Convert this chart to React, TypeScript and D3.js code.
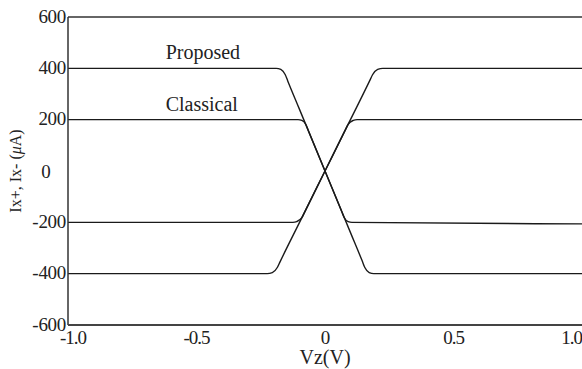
import React from "react";
import * as d3 from "d3";

const W = 582;
const H = 369;

// Tick values and labels
const xTicks = [-1.0, -0.5, 0, 0.5, 1.0];
const xTickLabels = ["-1.0", "-0.5", "0", "0.5", "1.0"];
const yTicks = [600, 400, 200, 0, -200, -400, -600];
const yTickLabels = ["600", "400", "200", "0", "-200", "-400", "-600"];

// Series: Proposed (descending and ascending branches)
const propDownVz = [-1, -0.19, -0.172, -0.155, -0.145, -0.1, 0, 0.1, 0.145, 0.155, 0.172, 0.19, 1];
const propDownI = [400, 400, 396, 376, 351, 242, 0, -242, -351, -376, -396, -400, -400];
const propUpVz = [-1, -0.225, -0.205, -0.185, -0.175, -0.1, 0, 0.1, 0.175, 0.185, 0.205, 0.225, 1];
const propUpI = [-400, -400, -396, -375, -354, -202, 0, 202, 354, 375, 396, 400, 400];

// Series: Classical (descending and ascending branches)
const classDownVz = [-1, -0.105, -0.09, -0.075, -0.065, 0, 0.065, 0.075, 0.09, 0.105, 1];
const classDownI = [200, 200, 197, 182, 158, 0, -158, -182, -197, -200, -206];
const classUpVz = [-1, -0.125, -0.11, -0.09, -0.08, 0, 0.08, 0.09, 0.11, 0.125, 1];
const classUpI = [-200, -200, -197, -182, -162, 0, 162, 182, 197, 200, 200];

const seriesList = [
  { name: "propDown", vz: propDownVz, i: propDownI },
  { name: "propUp", vz: propUpVz, i: propUpI },
  { name: "classDown", vz: classDownVz, i: classDownI },
  { name: "classUp", vz: classUpVz, i: classUpI },
];

const annotations = [
  { text: "Proposed", vz: -0.62, i: 400 },
  { text: "Classical", vz: -0.62, i: 200 },
];

export default function App() {
  const left = 68;
  const right = 582;
  const top = 17;
  const bottom = 325;

  const x = d3.scaleLinear().domain([-1, 1]).range([left, right]);
  const y = d3.scaleLinear().domain([-600, 600]).range([bottom, top]);

  const line = d3
    .line<[number, number]>()
    .x((d) => x(d[0]))
    .y((d) => y(d[1]))
    .curve(d3.curveMonotoneX);

  const font = "'Liberation Serif', 'Times New Roman', Times, serif";

  return (
    <svg
      width={W}
      height={H}
      style={{ position: "absolute", left: 0, top: 0, background: "#fff", fontFamily: font }}
    >
      {/* data lines */}
      {seriesList.map((s) => (
        <path
          key={s.name}
          d={line(s.vz.map((v, k) => [v, s.i[k]] as [number, number])) || ""}
          fill="none"
          stroke="#1a1a1a"
          strokeWidth={1.4}
        />
      ))}

      {/* frame */}
      <line x1={left} x2={right} y1={top} y2={top} stroke="#333" strokeWidth={1.5} />
      <line x1={left} x2={left} y1={top} y2={bottom} stroke="#333" strokeWidth={1.5} />
      <line x1={left} x2={right} y1={bottom} y2={bottom} stroke="#444" strokeWidth={2} />

      {/* y tick labels */}
      {yTicks.map((t, k) =>
        t === 0 ? (
          <text key={t} x={46} y={y(t)} dy="0.35em" textAnchor="middle" fontSize={19} fill="#222">
            {yTickLabels[k]}
          </text>
        ) : (
          <text key={t} x={left - 2} y={y(t) - 1} dy="0.35em" textAnchor="end" fontSize={19} fill="#222" letterSpacing={-0.3}>
            {yTickLabels[k]}
          </text>
        )
      )}

      {/* x tick labels */}
      {xTicks.map((t, k) => {
        const first = k === 0;
        const last = k === xTicks.length - 1;
        return (
          <text
            key={t}
            x={first ? x(t) - 8 : last ? W : x(t)}
            y={344}
            textAnchor={first ? "start" : last ? "end" : "middle"}
            fontSize={19}
            fill="#222"
            letterSpacing={-1}
          >
            {xTickLabels[k]}
          </text>
        );
      })}

      {/* axis titles */}
      <text x={325} y={364} textAnchor="middle" fontSize={20} fill="#222">
        Vz(V)
      </text>
      <text
        transform={`translate(21, ${y(0)}) rotate(-90)`}
        textAnchor="middle"
        fontSize={16}
        fill="#222"
      >
        Ix+, Ix- (<tspan fontStyle="italic">μ</tspan>A)
      </text>

      {/* annotations */}
      {annotations.map((a) => (
        <text key={a.text} x={x(a.vz)} y={y(a.i) - 9} fontSize={20} fill="#222">
          {a.text}
        </text>
      ))}
    </svg>
  );
}
